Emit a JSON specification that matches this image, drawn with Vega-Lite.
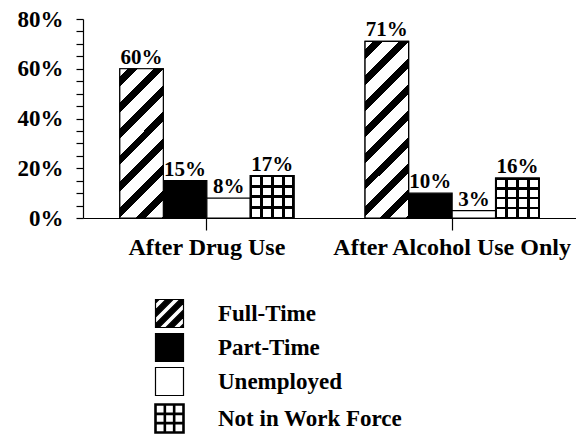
{
  "$schema": "https://vega.github.io/schema/vega-lite/v6.json",
  "width": 493,
  "height": 199,
  "autosize": {"type": "none"},
  "padding": {"left": 83, "top": 19, "right": 0, "bottom": 219},
  "background": "white",
  "config": {
    "view": {"stroke": null},
    "font": "Liberation Serif",
    "axis": {"domainColor": "black", "tickColor": "black", "labelColor": "black", "grid": false, "domainWidth": 1.2, "tickWidth": 1.2}
  },
  "data": {
    "values": [
      {"group": "After Drug Use", "category": "Full-Time", "value": 0.60},
      {"group": "After Drug Use", "category": "Part-Time", "value": 0.15},
      {"group": "After Drug Use", "category": "Unemployed", "value": 0.08},
      {"group": "After Drug Use", "category": "Not in Work Force", "value": 0.17},
      {"group": "After Alcohol Use Only", "category": "Full-Time", "value": 0.71},
      {"group": "After Alcohol Use Only", "category": "Part-Time", "value": 0.10},
      {"group": "After Alcohol Use Only", "category": "Unemployed", "value": 0.03},
      {"group": "After Alcohol Use Only", "category": "Not in Work Force", "value": 0.16}
    ]
  },
  "encoding": {
    "x": {
      "field": "group", "type": "nominal",
      "scale": {"domain": ["After Drug Use", "After Alcohol Use Only"], "paddingInner": 0.29, "paddingOuter": 0.15},
      "axis": {"title": null, "labelAngle": 0, "labelFontSize": 24, "labelFontWeight": "bold", "labelLimit": 400, "tickSize": 12, "labelPadding": 5}
    },
    "xOffset": {
      "field": "category", "type": "nominal",
      "scale": {"domain": ["Full-Time", "Part-Time", "Unemployed", "Not in Work Force"], "paddingInner": 0, "paddingOuter": 0}
    },
    "y": {
      "field": "value", "type": "quantitative",
      "scale": {"domain": [0, 0.8], "nice": false},
      "axis": {
        "title": null,
        "values": [0, 0.05, 0.1, 0.15, 0.2, 0.25, 0.3, 0.35, 0.4, 0.45, 0.5, 0.55, 0.6, 0.65, 0.7, 0.75, 0.8],
        "labelExpr": "round(datum.value*100) % 20 == 0 ? format(datum.value, '.0%') : ''",
        "labelOverlap": false,
        "labelFontSize": 23,
        "labelFontWeight": "bold",
        "tickSize": 7,
        "labelPadding": 13
      }
    }
  },
  "layer": [
    {
      "mark": {"type": "bar", "stroke": "black", "strokeWidth": 1.2},
      "encoding": {
        "color": {
          "field": "category", "type": "nominal",
          "scale": {
            "domain": ["Full-Time", "Part-Time", "Unemployed", "Not in Work Force"],
            "range": ["black", "black", "white", "white"]
          },
          "legend": {
            "title": null,
            "orient": "none",
            "legendX": 75,
            "legendY": 283,
            "padding": 0,
            "symbolType": "square",
            "symbolSize": 784,
            "symbolStrokeColor": "black",
            "symbolStrokeWidth": 1.2,
            "labelFontSize": 23,
            "labelFontWeight": "bold",
            "labelColor": "black",
            "labelOffset": 37,
            "labelLimit": 300,
            "rowPadding": 1,
            "encode": {
              "symbols": {
                "update": {
                  "shape": {"signal": "datum.value === 'Not in Work Force' ? 'M-1,-1H1V1H-1Z M-0.333,-1V1 M0.333,-1V1 M-1,-0.333H1 M-1,0.333H1' : (datum.value === 'Full-Time' ? 'M-1,-1H1V1H-1Z M-1,-0.75L-1,-0.25L-0.25,-1L-0.75,-1Z M-1,0.25L-1,0.75L0.75,-1L0.25,-1Z M1,-0.25L1,-0.75L-0.75,1L-0.25,1Z M1,0.75L1,0.25L0.25,1L0.75,1Z' : 'square')"},
                  "strokeWidth": {"signal": "datum.value === 'Not in Work Force' ? 2.6 : 1.2"},
                  "stroke": {"value": "black"},
                  "opacity": {"value": 1}
                }
              }
            }
          }
        }
      }
    },
    {
      "transform": [{"filter": "datum.category === 'Full-Time' && datum.group === 'After Drug Use'"}],
      "mark": {"type": "bar", "stroke": "black", "strokeWidth": 1.2,
        "fill": {"gradient": "linear", "x1": 0, "y1": 0, "x2": 0.4725, "y2": 1.618, "stops": [
          {"offset": 0, "color": "white"}, {"offset": 0.03, "color": "white"}, {"offset": 0.03, "color": "black"}, {"offset": 0.068, "color": "black"}, {"offset": 0.068, "color": "white"},
          {"offset": 0.13, "color": "white"}, {"offset": 0.13, "color": "black"}, {"offset": 0.168, "color": "black"}, {"offset": 0.168, "color": "white"},
          {"offset": 0.23, "color": "white"}, {"offset": 0.23, "color": "black"}, {"offset": 0.268, "color": "black"}, {"offset": 0.268, "color": "white"},
          {"offset": 0.33, "color": "white"}, {"offset": 0.33, "color": "black"}, {"offset": 0.368, "color": "black"}, {"offset": 0.368, "color": "white"},
          {"offset": 0.43, "color": "white"}, {"offset": 0.43, "color": "black"}, {"offset": 0.468, "color": "black"}, {"offset": 0.468, "color": "white"},
          {"offset": 0.53, "color": "white"}, {"offset": 0.53, "color": "black"}, {"offset": 0.568, "color": "black"}, {"offset": 0.568, "color": "white"},
          {"offset": 0.63, "color": "white"}, {"offset": 0.63, "color": "black"}, {"offset": 0.668, "color": "black"}, {"offset": 0.668, "color": "white"},
          {"offset": 0.73, "color": "white"}, {"offset": 0.73, "color": "black"}, {"offset": 0.768, "color": "black"}, {"offset": 0.768, "color": "white"},
          {"offset": 0.83, "color": "white"}, {"offset": 0.83, "color": "black"}, {"offset": 0.868, "color": "black"}, {"offset": 0.868, "color": "white"},
          {"offset": 0.93, "color": "white"}, {"offset": 0.93, "color": "black"}, {"offset": 0.968, "color": "black"}, {"offset": 0.968, "color": "white"},
          {"offset": 1, "color": "white"}
        ]}
      }
    },
    {
      "transform": [{"filter": "datum.category === 'Full-Time' && datum.group === 'After Alcohol Use Only'"}],
      "mark": {"type": "bar", "stroke": "black", "strokeWidth": 1.2,
        "fill": {"gradient": "linear", "x1": 0, "y1": 0, "x2": 0.3438, "y2": 1.396, "stops": [
          {"offset": 0, "color": "white"}, {"offset": 0.03, "color": "white"}, {"offset": 0.03, "color": "black"}, {"offset": 0.068, "color": "black"}, {"offset": 0.068, "color": "white"},
          {"offset": 0.13, "color": "white"}, {"offset": 0.13, "color": "black"}, {"offset": 0.168, "color": "black"}, {"offset": 0.168, "color": "white"},
          {"offset": 0.23, "color": "white"}, {"offset": 0.23, "color": "black"}, {"offset": 0.268, "color": "black"}, {"offset": 0.268, "color": "white"},
          {"offset": 0.33, "color": "white"}, {"offset": 0.33, "color": "black"}, {"offset": 0.368, "color": "black"}, {"offset": 0.368, "color": "white"},
          {"offset": 0.43, "color": "white"}, {"offset": 0.43, "color": "black"}, {"offset": 0.468, "color": "black"}, {"offset": 0.468, "color": "white"},
          {"offset": 0.53, "color": "white"}, {"offset": 0.53, "color": "black"}, {"offset": 0.568, "color": "black"}, {"offset": 0.568, "color": "white"},
          {"offset": 0.63, "color": "white"}, {"offset": 0.63, "color": "black"}, {"offset": 0.668, "color": "black"}, {"offset": 0.668, "color": "white"},
          {"offset": 0.73, "color": "white"}, {"offset": 0.73, "color": "black"}, {"offset": 0.768, "color": "black"}, {"offset": 0.768, "color": "white"},
          {"offset": 0.83, "color": "white"}, {"offset": 0.83, "color": "black"}, {"offset": 0.868, "color": "black"}, {"offset": 0.868, "color": "white"},
          {"offset": 0.93, "color": "white"}, {"offset": 0.93, "color": "black"}, {"offset": 0.968, "color": "black"}, {"offset": 0.968, "color": "white"},
          {"offset": 1, "color": "white"}
        ]}
      }
    },
    {
      "transform": [{"filter": "datum.category === 'Not in Work Force'"}],
      "mark": {"type": "bar", "stroke": null,
        "fill": {"gradient": "linear", "x1": 0, "y1": 0, "x2": 1, "y2": 0, "stops": [
          {"offset": 0, "color": "black"}, {"offset": 0.035, "color": "black"}, {"offset": 0.035, "color": "white"},
          {"offset": 0.215, "color": "white"}, {"offset": 0.215, "color": "black"}, {"offset": 0.285, "color": "black"}, {"offset": 0.285, "color": "white"},
          {"offset": 0.465, "color": "white"}, {"offset": 0.465, "color": "black"}, {"offset": 0.535, "color": "black"}, {"offset": 0.535, "color": "white"},
          {"offset": 0.715, "color": "white"}, {"offset": 0.715, "color": "black"}, {"offset": 0.785, "color": "black"}, {"offset": 0.785, "color": "white"},
          {"offset": 0.965, "color": "white"}, {"offset": 0.965, "color": "black"}, {"offset": 1, "color": "black"}
        ]}
      }
    },
    {
      "transform": [{"filter": "datum.category === 'Not in Work Force'"}],
      "mark": {"type": "bar", "stroke": "black", "strokeWidth": 1.5,
        "fill": {"gradient": "linear", "x1": 0, "y1": 0, "x2": 0, "y2": 1, "stops": [
          {"offset": 0, "color": "black"}, {"offset": 0.035, "color": "black"}, {"offset": 0.035, "color": "rgba(0,0,0,0)"},
          {"offset": 0.215, "color": "rgba(0,0,0,0)"}, {"offset": 0.215, "color": "black"}, {"offset": 0.285, "color": "black"}, {"offset": 0.285, "color": "rgba(0,0,0,0)"},
          {"offset": 0.465, "color": "rgba(0,0,0,0)"}, {"offset": 0.465, "color": "black"}, {"offset": 0.535, "color": "black"}, {"offset": 0.535, "color": "rgba(0,0,0,0)"},
          {"offset": 0.715, "color": "rgba(0,0,0,0)"}, {"offset": 0.715, "color": "black"}, {"offset": 0.785, "color": "black"}, {"offset": 0.785, "color": "rgba(0,0,0,0)"},
          {"offset": 0.965, "color": "rgba(0,0,0,0)"}, {"offset": 0.965, "color": "black"}, {"offset": 1, "color": "black"}
        ]}
      }
    },
    {
      "mark": {"type": "text", "baseline": "alphabetic", "dy": -5, "fontSize": 21, "fontWeight": "bold", "color": "black"},
      "encoding": {
        "text": {"field": "value", "type": "quantitative", "format": ".0%"}
      }
    }
  ]
}
